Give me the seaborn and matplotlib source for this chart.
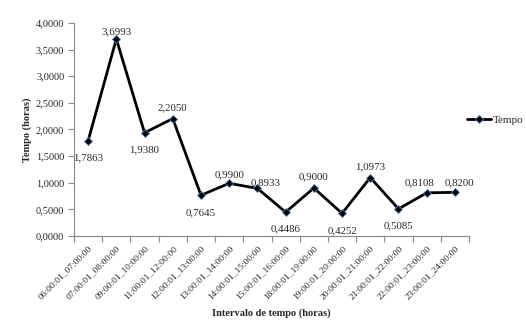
import matplotlib
matplotlib.use("Agg")
import matplotlib.pyplot as plt
import seaborn as sns
import pandas as pd
from matplotlib.ticker import FixedLocator, FuncFormatter

categories = ["06:00:01_07:00:00", "07:00:01_08:00:00", "09:00:01_10:00:00",
              "11:00:01_12:00:00", "12:00:01_13:00:00", "13:00:01_14:00:00",
              "14:00:01_15:00:00", "15:00:01_16:00:00", "18:00:01_19:00:00",
              "19:00:01_20:00:00", "20:00:01_21:00:00", "21:00:01_22:00:00",
              "22:00:01_23:00:00", "23:00:01_24:00:00"]
tempo = [1.7863, 3.6993, 1.9380, 2.2050, 0.7645, 0.9900, 0.8933,
         0.4486, 0.9000, 0.4252, 1.0973, 0.5085, 0.8108, 0.8200]
y_ticks = [0, 0.5, 1.0, 1.5, 2.0, 2.5, 3.0, 3.5, 4.0]

# label offsets in points (style only)
label_offsets = [(0, -9), (0, 5), (0, -9), (0, 8), (0, -9), (0, 6), (6, 4),
                 (0, -9), (0, 8), (0, -9), (0, 8), (0, -9), (-5, 7), (3, 7)]

sns.set_style("white")
plt.rcParams['font.family'] = ['Liberation Serif', 'DejaVu Serif']

df = pd.DataFrame({"pos": range(len(categories)), "Tempo": tempo})

fig = plt.figure(figsize=(5.26, 3.27), dpi=100)
ax = fig.add_axes([0.1407, 0.2783, 0.751, 0.6514])

sns.lineplot(data=df, x="pos", y="Tempo", ax=ax, color="black", linewidth=2,
             marker="D", markersize=4.5, markerfacecolor="black",
             markeredgecolor="#4a7ebb", markeredgewidth=0.6, label="Tempo")

ax.set_xlim(-0.5, len(categories) - 0.5)
ax.set_ylim(0, 4)
ax.yaxis.set_major_locator(FixedLocator(y_ticks))
ax.yaxis.set_major_formatter(FuncFormatter(lambda v, p: f"{v:.4f}".replace(".", ",")))

ax.set_xticks(range(len(categories)))
ax.set_xticklabels(categories, rotation=45, ha="right", rotation_mode="anchor", fontsize=6.8)
ax.set_xticks([i - 0.5 for i in range(len(categories) + 1)], minor=True)
ax.tick_params(axis="x", which="major", length=0, pad=6)
ax.tick_params(axis="x", which="minor", length=4, color="#888888", width=0.8, direction="out")
ax.tick_params(axis="y", length=4, color="#888888", width=0.8, direction="out", labelsize=7.5, pad=3)
ax.xaxis.set_tick_params(bottom=True, which="both")
ax.yaxis.set_tick_params(left=True)

for s in ["top", "right"]:
    ax.spines[s].set_visible(False)
for s in ["left", "bottom"]:
    ax.spines[s].set_color("#888888")
    ax.spines[s].set_linewidth(0.8)

for i, (v, off) in enumerate(zip(tempo, label_offsets)):
    txt = f"{v:.4f}".replace(".", ",")
    va = "top" if off[1] < 0 else "center"
    ax.annotate(txt, (i, v), xytext=off, textcoords="offset points",
                ha="center", va=va, fontsize=7.8)

ax.set_xlabel("Intervalo de tempo (horas)", fontsize=7.5, fontweight="bold", labelpad=5)
ax.set_ylabel("Tempo (horas)", fontsize=7.5, fontweight="bold", labelpad=3)

ax.legend(loc="center left", bbox_to_anchor=(0.868, 0.633), bbox_transform=fig.transFigure,
          frameon=False, fontsize=8, handlelength=2.2, handletextpad=0.15)

fig.savefig("out.png", dpi=100)
